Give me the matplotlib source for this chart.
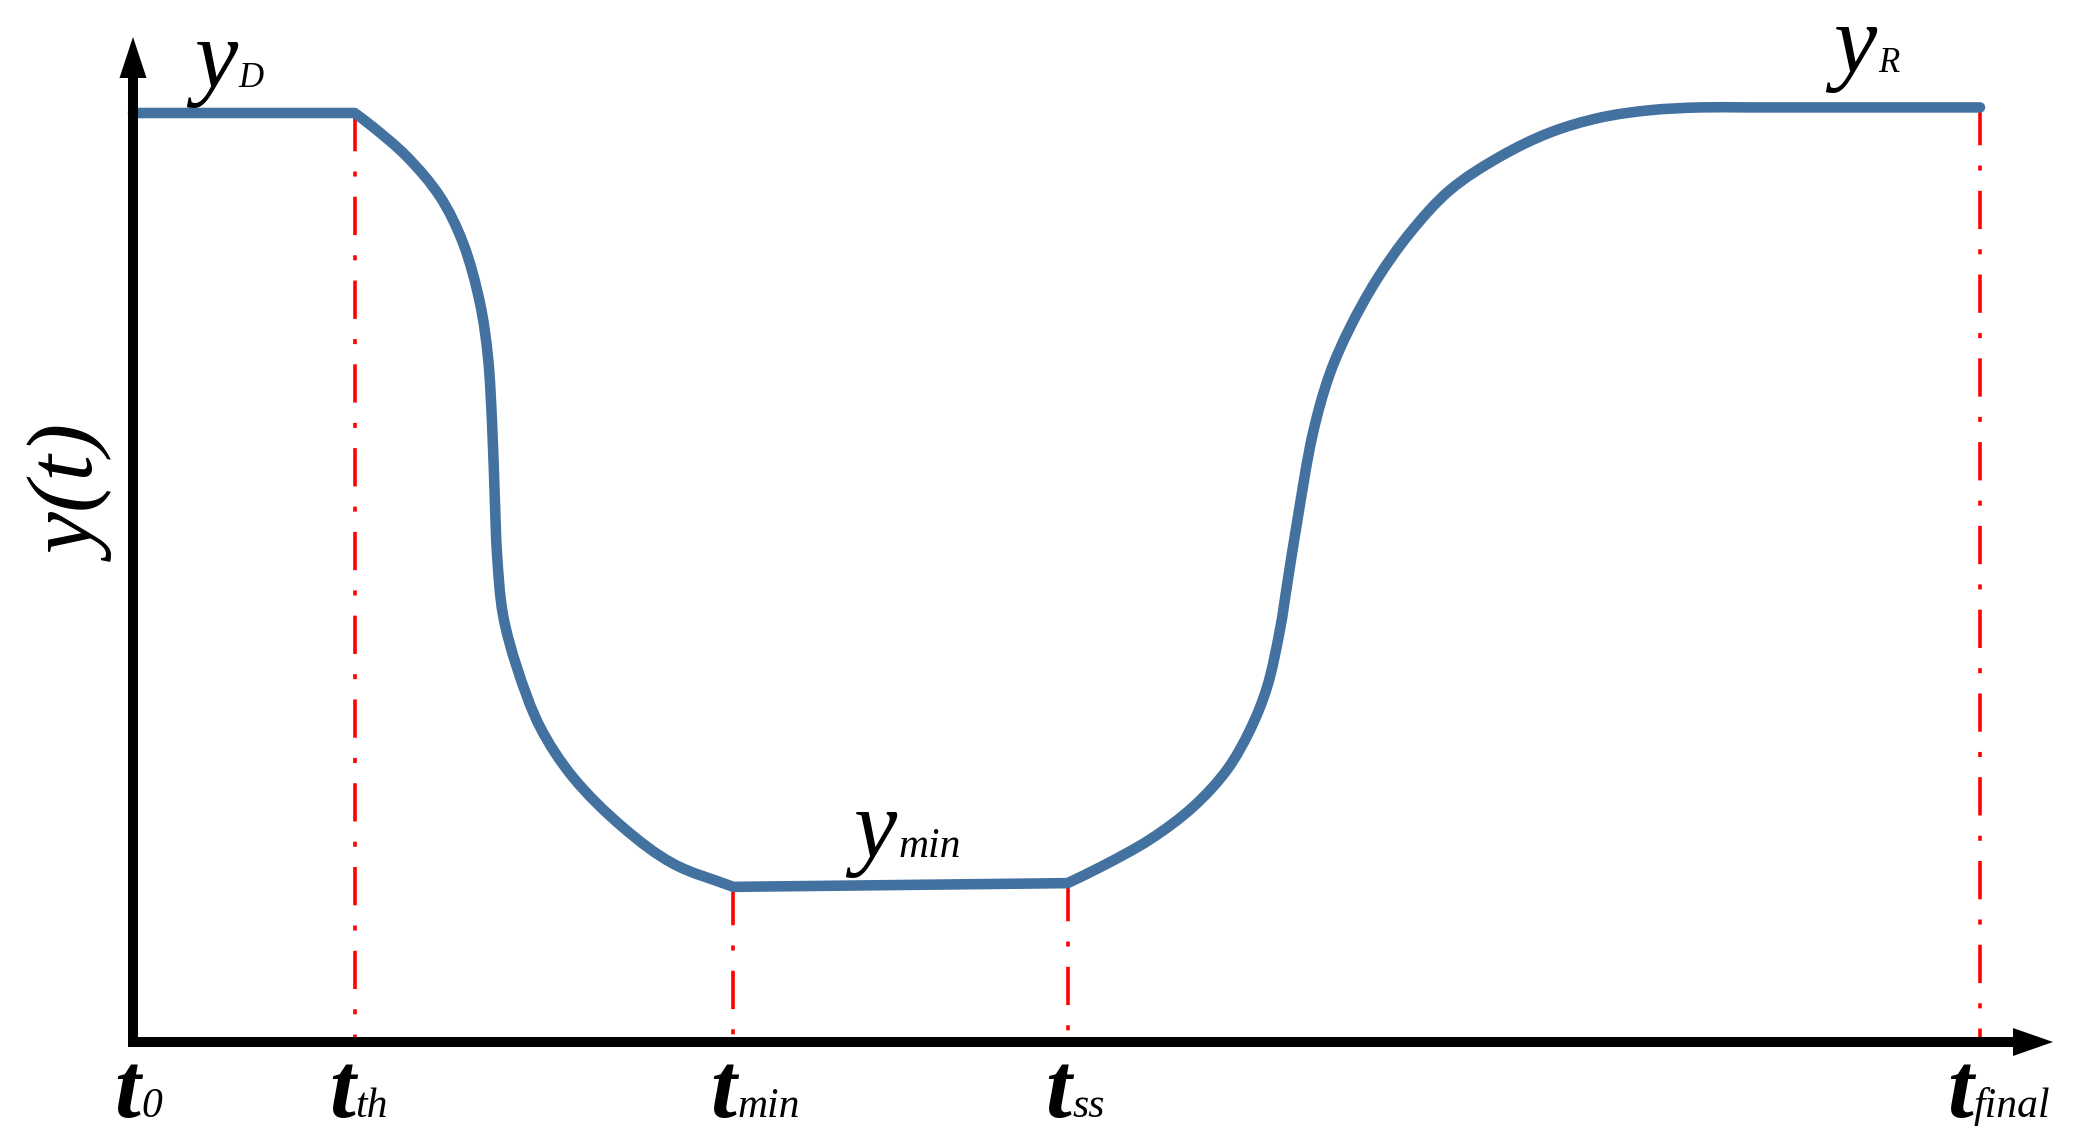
import numpy as np
import matplotlib
matplotlib.use("Agg")
import matplotlib.pyplot as plt
from matplotlib.path import Path
from matplotlib.patches import PathPatch

# ---------------- data ----------------
time_names = ['0', 'th', 'min', 'ss', 'final']
time_values = [0.0, 12.0, 32.5, 50.6, 100.0]

y_D = 1.0
y_min = 0.167
y_R = 1.006

curve_t = [0.0, 12.0, 12.99, 14.83, 16.62, 17.87, 18.79, 19.22, 19.44, 19.60,
           19.71, 20.03, 20.79, 22.04, 23.82, 26.53, 29.24, 32.5, 50.6, 52.35,
           55.06, 57.39, 59.23, 60.48, 61.40, 62.10, 62.53, 63.02, 63.89, 64.81,
           65.89, 67.35, 69.14, 71.30, 74.01, 76.72, 79.43, 82.13, 84.84, 87.55,
           100.0]
curve_y = [1.0, 1.0, 0.985, 0.953, 0.910, 0.860, 0.795, 0.737, 0.666, 0.578,
           0.525, 0.460, 0.403, 0.339, 0.285, 0.231, 0.192, 0.167, 0.171, 0.188,
           0.218, 0.253, 0.293, 0.336, 0.382, 0.444, 0.498, 0.559, 0.656, 0.720,
           0.769, 0.821, 0.871, 0.917, 0.953, 0.979, 0.995, 1.003, 1.006, 1.006,
           1.006]

# ---------------- figure ----------------
W, H, DPI = 2081, 1146, 100
fig = plt.figure(figsize=(W / DPI, H / DPI), dpi=DPI)
ax = fig.add_axes([0, 0, 1, 1])
PX_X = 18.47   # pixels per time unit
PX_Y = 929.0   # pixels per y unit
X0, Y0 = 133, 1042
ax.set_xlim(-X0 / PX_X, (W - X0) / PX_X)
ax.set_ylim(-(H - Y0) / PX_Y, Y0 / PX_Y)
ax.axis('off')

serif = 'Liberation Serif'
blue = '#4371A0'
red = '#FF0000'


def smooth_piece(pts):
    """Centripetal Catmull-Rom -> cubic Bezier control points (pixel space)."""
    n = len(pts)
    ext = np.vstack([2 * pts[0] - pts[1], pts, 2 * pts[-1] - pts[-2]])
    verts, codes = [], []
    for i in range(n - 1):
        P0, P1, P2, P3 = ext[i], ext[i + 1], ext[i + 2], ext[i + 3]
        d1 = max(np.linalg.norm(P1 - P0), 1e-6) ** 0.5
        d2 = max(np.linalg.norm(P2 - P1), 1e-6) ** 0.5
        d3 = max(np.linalg.norm(P3 - P2), 1e-6) ** 0.5
        C1 = (d1 ** 2 * P2 - d2 ** 2 * P0 + (2 * d1 ** 2 + 3 * d1 * d2 + d2 ** 2) * P1) / (3 * d1 * (d1 + d2))
        C2 = (d3 ** 2 * P1 - d2 ** 2 * P3 + (2 * d3 ** 2 + 3 * d3 * d2 + d2 ** 2) * P2) / (3 * d3 * (d3 + d2))
        verts += [C1, C2, P2]
        codes += [Path.CURVE4] * 3
    return verts, codes


# build smooth path, with corners kept at the marked times
pts_px = np.column_stack([np.array(curve_t) * PX_X, np.array(curve_y) * PX_Y])
breaks = [i for i, tv in enumerate(curve_t) if tv in time_values]
verts, codes = [pts_px[0]], [Path.MOVETO]
for a, b in zip(breaks[:-1], breaks[1:]):
    v, c = smooth_piece(pts_px[a:b + 1])
    verts += v
    codes += c
verts = np.array(verts) / np.array([PX_X, PX_Y])
curve_patch = PathPatch(Path(verts, codes), fill=False, edgecolor=blue, lw=7.6,
                        capstyle='round', joinstyle='round', zorder=3)
ax.add_patch(curve_patch)

# red dash-dot guide lines (from curve down to the axis)
for tv in time_values[1:]:
    top = float(np.interp(tv, curve_t, curve_y))
    ax.plot([tv, tv], [top, 0.0], color=red, lw=2.6,
            linestyle=(0, (10.6, 5.6, 1.4, 5.6)), zorder=2,
            dash_capstyle='butt')

# axes arrows
ax.arrow(-5 / PX_X, 0.0, (2053 - X0 + 5) / PX_X, 0.0,
         width=10 / PX_Y, head_width=28 / PX_Y, head_length=40 / PX_X,
         length_includes_head=True, fc='black', ec='none', zorder=4)
ax.arrow(0.0, -5 / PX_Y, 0.0, (Y0 - 37 + 5) / PX_Y,
         width=10 / PX_X, head_width=27 / PX_X, head_length=41 / PX_Y,
         length_includes_head=True, fc='black', ec='none', zorder=4)


# ---------------- labels ----------------
def lab(s, xy, off, size, weight='normal', ha='left', **kw):
    ax.annotate(s, xy=xy, xytext=off, textcoords='offset pixels',
                ha=ha, va='baseline', fontsize=size, family=serif,
                style='italic', weight=weight, **kw)


# time labels: horizontal offset of the 't' centre from its tick
t_offsets = [-6, -13, -10, -9, -20]
for name, tv, dt in zip(time_names, time_values, t_offsets):
    lab('t', (tv, 0.0), (dt, -75), 67, weight='bold', ha='center')
    lab(name, (tv, 0.0), (dt + 14, -75), 30)

# y labels
lab('y', (time_values[0], y_D), (61, 26), 70)
lab('D', (time_values[0], y_D), (105, 26), 25)
lab('y', (time_values[2], y_min), (120, 30), 70)
lab('min', (time_values[2], y_min), (165, 30), 30)
lab('y', (time_values[4], y_R), (-147, 35), 70)
lab('R', (time_values[4], y_R), (-102, 35), 25)

# axis title
ax.annotate('y(t)', xy=(0.0, 0.5), xytext=(-33, 82), textcoords='offset pixels',
            rotation=90, rotation_mode='anchor', ha='center', va='baseline',
            fontsize=68, family=serif, style='italic')

fig.savefig('out.png', dpi=DPI, facecolor='white')
